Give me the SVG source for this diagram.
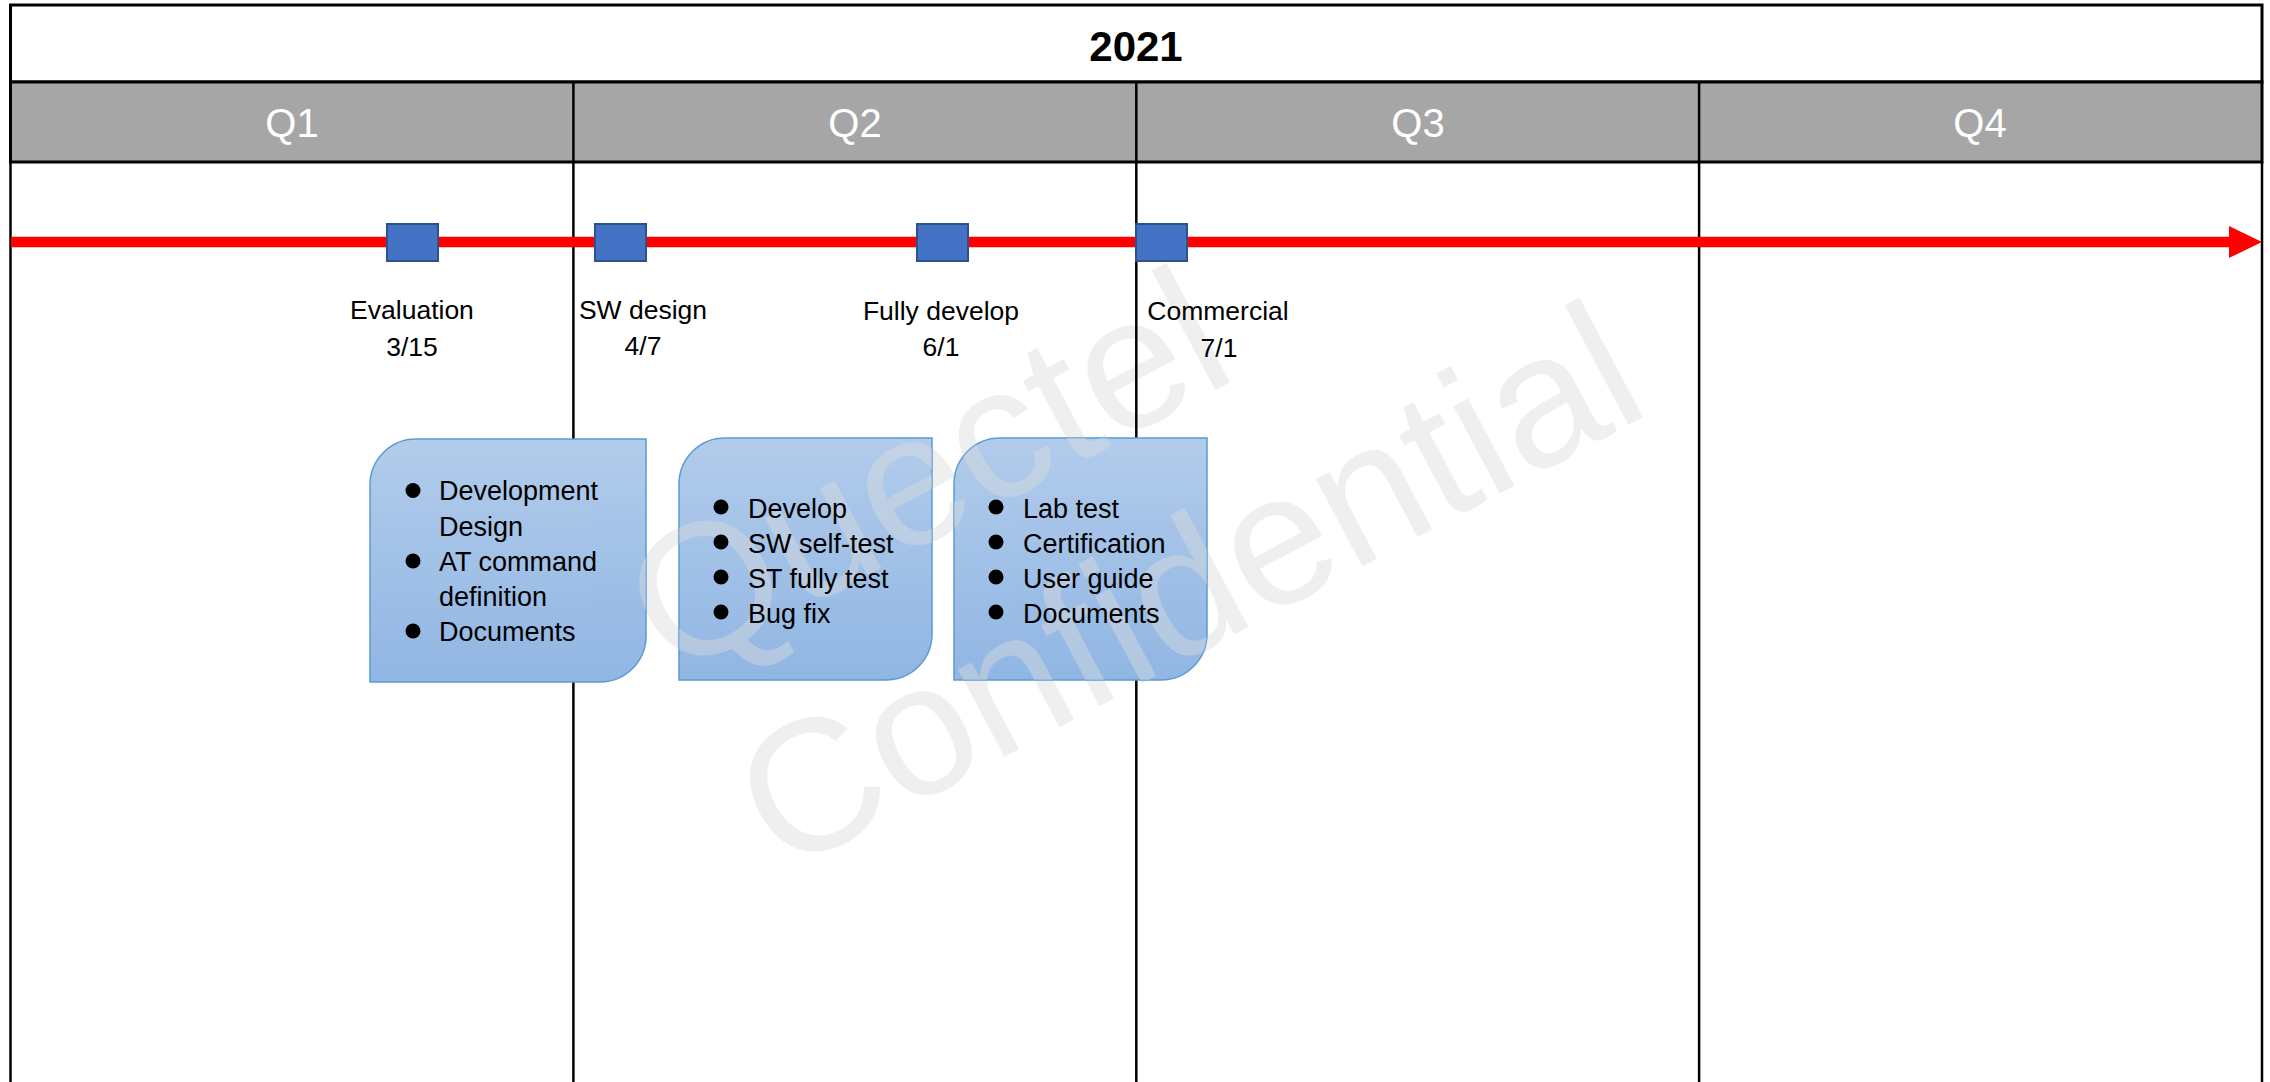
<svg xmlns="http://www.w3.org/2000/svg" xmlns:xlink="http://www.w3.org/1999/xlink" width="2270" height="1082" viewBox="0 0 2270 1082">
<defs>
  <linearGradient id="boxFill" x1="0" y1="0" x2="0" y2="1">
    <stop offset="0" stop-color="#B2CCEB"/>
    <stop offset="1" stop-color="#91B6E3"/>
  </linearGradient>
  <clipPath id="clip1"><path d="M416,439 H646 V636 A46,46 0 0 1 600,682 H370 V485 A46,46 0 0 1 416,439 Z"/></clipPath>
  <clipPath id="clip2"><path d="M725,438 H932 V634 A46,46 0 0 1 886,680 H679 V484 A46,46 0 0 1 725,438 Z"/></clipPath>
  <clipPath id="clip3"><path d="M1000,438 H1207 V634 A46,46 0 0 1 1161,680 H954 V484 A46,46 0 0 1 1000,438 Z"/></clipPath>
  <style>
    .lbl{font-family:"Liberation Sans",Arial,sans-serif;font-size:26.5px;fill:#000;text-anchor:middle}
    .item{font-family:"Liberation Sans",Arial,sans-serif;font-size:27px;fill:#000}
    .q{font-family:"Liberation Sans",Arial,sans-serif;font-size:40px;fill:#fff;text-anchor:middle}
    .year{font-family:"Liberation Sans",Arial,sans-serif;font-size:42px;font-weight:bold;fill:#000;text-anchor:middle}
    .grid{stroke:#000;stroke-width:2.5;fill:none}
    .ms{fill:#4472C4;stroke:#2F528F;stroke-width:2}
    .box{fill:url(#boxFill);stroke:#5B9BD5;stroke-width:1.5}
    .bul{fill:#000}
    .wm{font-family:"Liberation Sans",Arial,sans-serif;font-size:187px;fill:#DCDCDC;opacity:0.43}
  </style>
</defs>
<rect x="0" y="0" width="2270" height="1082" fill="#fff"/>

<g id="header">
  <rect x="10.5" y="5" width="2251.5" height="77" fill="#fff" stroke="#000" stroke-width="3"/>
  <text class="year" x="1136" y="61">2021</text>
  <rect x="10.5" y="82" width="2251.5" height="80" fill="#A6A6A6" stroke="#000" stroke-width="3"/>
  <line class="grid" x1="573.4" y1="82" x2="573.4" y2="162"/>
  <line class="grid" x1="1136.3" y1="82" x2="1136.3" y2="162"/>
  <line class="grid" x1="1699.1" y1="82" x2="1699.1" y2="162"/>
  <text class="q" x="292" y="137">Q1</text>
  <text class="q" x="855" y="137">Q2</text>
  <text class="q" x="1418" y="137">Q3</text>
  <text class="q" x="1980" y="137">Q4</text>
</g>

<g id="watermark">
  <text class="wm" transform="translate(672,679) rotate(-28)">Quectel</text>
  <text class="wm" transform="translate(782,875) rotate(-28)">Confidential</text>
</g>

<g id="grid">
  <line class="grid" x1="10.5" y1="162" x2="10.5" y2="1082" stroke-width="3"/>
  <line class="grid" x1="2262" y1="162" x2="2262" y2="1082" stroke-width="3"/>
  <line class="grid" x1="573.4" y1="162" x2="573.4" y2="1082"/>
  <line class="grid" x1="1136.3" y1="162" x2="1136.3" y2="1082"/>
  <line class="grid" x1="1699.1" y1="162" x2="1699.1" y2="1082"/>
</g>

<g id="box-q1">
  <path class="box" d="M416,439 H646 V636 A46,46 0 0 1 600,682 H370 V485 A46,46 0 0 1 416,439 Z"/>
  <use href="#watermark" xlink:href="#watermark" clip-path="url(#clip1)"/>
  <circle class="bul" cx="413" cy="490.5" r="7.5"/>
  <circle class="bul" cx="413" cy="561" r="7.5"/>
  <circle class="bul" cx="413" cy="631" r="7.5"/>
  <text class="item" x="439" y="500">Development</text>
  <text class="item" x="439" y="535.5">Design</text>
  <text class="item" x="439" y="571">AT command</text>
  <text class="item" x="439" y="606">definition</text>
  <text class="item" x="439" y="641">Documents</text>
</g>

<g id="box-q2a">
  <path class="box" d="M725,438 H932 V634 A46,46 0 0 1 886,680 H679 V484 A46,46 0 0 1 725,438 Z"/>
  <use href="#watermark" xlink:href="#watermark" clip-path="url(#clip2)"/>
  <circle class="bul" cx="721" cy="507" r="7.5"/>
  <circle class="bul" cx="721" cy="542" r="7.5"/>
  <circle class="bul" cx="721" cy="577" r="7.5"/>
  <circle class="bul" cx="721" cy="612" r="7.5"/>
  <text class="item" x="748" y="517.5">Develop</text>
  <text class="item" x="748" y="552.5">SW self-test</text>
  <text class="item" x="748" y="587.5">ST fully test</text>
  <text class="item" x="748" y="622.5">Bug fix</text>
</g>

<g id="box-q2b">
  <path class="box" d="M1000,438 H1207 V634 A46,46 0 0 1 1161,680 H954 V484 A46,46 0 0 1 1000,438 Z"/>
  <use href="#watermark" xlink:href="#watermark" clip-path="url(#clip3)"/>
  <circle class="bul" cx="996" cy="507" r="7.5"/>
  <circle class="bul" cx="996" cy="542" r="7.5"/>
  <circle class="bul" cx="996" cy="577" r="7.5"/>
  <circle class="bul" cx="996" cy="612" r="7.5"/>
  <text class="item" x="1023" y="517.5">Lab test</text>
  <text class="item" x="1023" y="552.5">Certification</text>
  <text class="item" x="1023" y="587.5">User guide</text>
  <text class="item" x="1023" y="622.5">Documents</text>
</g>

<g id="connectors">
  <line x1="11" y1="242" x2="2232" y2="242" stroke="#FF0000" stroke-width="10.5"/>
  <polygon points="2229,226 2262,242 2229,258" fill="#FF0000"/>
</g>

<g id="ms-evaluation">
  <rect class="ms" x="387" y="224" width="51" height="37"/>
  <text class="lbl" x="412" y="319">Evaluation</text>
  <text class="lbl" x="412" y="355.5">3/15</text>
</g>
<g id="ms-swdesign">
  <rect class="ms" x="595" y="224" width="51" height="37"/>
  <text class="lbl" x="643" y="319">SW design</text>
  <text class="lbl" x="643" y="355">4/7</text>
</g>
<g id="ms-fullydevelop">
  <rect class="ms" x="917" y="224" width="51" height="37"/>
  <text class="lbl" x="941" y="320">Fully develop</text>
  <text class="lbl" x="941" y="356">6/1</text>
</g>
<g id="ms-commercial">
  <rect class="ms" x="1136" y="224" width="51" height="37"/>
  <text class="lbl" x="1218" y="320">Commercial</text>
  <text class="lbl" x="1219" y="357">7/1</text>
</g>
</svg>
